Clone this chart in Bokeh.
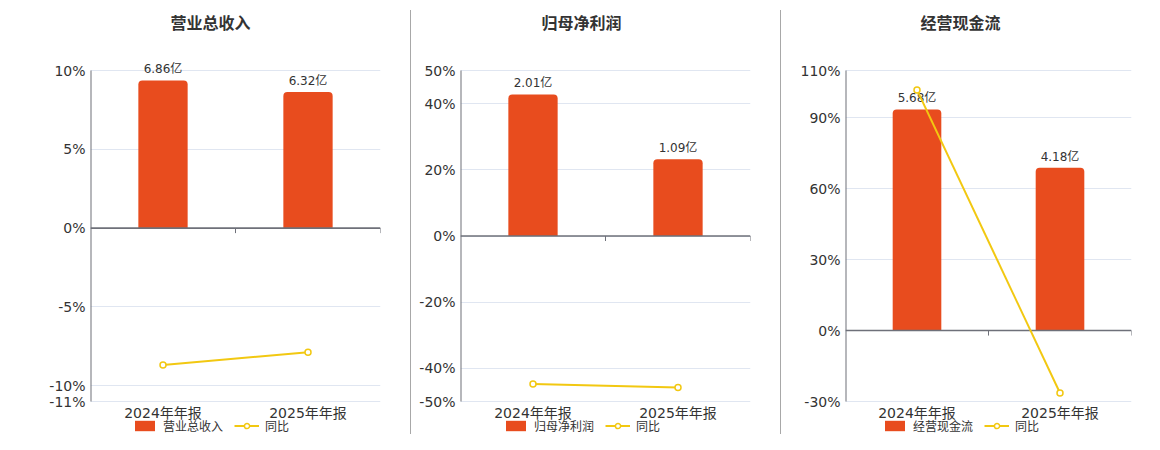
from bokeh.plotting import figure
from bokeh.models import (Range1d, FixedTicker, PrintfTickFormatter, Label,
                          Legend, LegendItem, ColumnDataSource, Div)
from bokeh.layouts import row
from bokeh.core.properties import value
from bokeh.embed import file_html
from bokeh.resources import INLINE

# ---------------- data ----------------
periods = ["2024年年报", "2025年年报"]
titles = ["营业总收入", "归母净利润", "经营现金流"]
revenue = [6.86, 6.32]          # 亿
revenue_yoy = [-8.68, -7.87]    # %
profit = [2.01, 1.09]
profit_yoy = [-44.7, -45.77]
cashflow = [5.68, 4.18]
cashflow_yoy = [101.8, -26.41]
ticks_revenue = [-11, -10, -5, 0, 5, 10]
ticks_profit = [-50, -40, -20, 0, 20, 40, 50]
ticks_cashflow = [-30, 0, 30, 60, 90, 110]
yoy_label = "同比"
unit = "亿"

# ---------------- style ----------------
FONT = "'DejaVu Sans', 'Noto Sans CJK SC', sans-serif"
RED = "#E84C1E"
YEL = "#F2C811"
AXC = "#6E7079"
GRID = "#E0E6F1"
TXT = "#333333"
H = 434
PAD = 70          # room above the top tick (title, bar labels), px
DATA_H = 331      # px between top and bottom tick
FOOT = H - PAD - DATA_H   # room for category labels + legend
TITLE_Y = 23      # title centre, px from top


def panel(title, bars, yoy, ticks, width, left, right, bar_top, title_center):
    ymin, ymax = min(ticks), max(ticks)
    n = len(periods)
    per_px = (ymax - ymin) / DATA_H
    y_end = ymax + PAD * per_px
    y_start = ymin - FOOT * per_px
    p = figure(width=width, height=H, output_backend="svg", toolbar_location=None,
               x_range=Range1d(-0.5, n - 0.5), y_range=Range1d(y_start, y_end),
               x_axis_location=None,
               min_border_left=left, min_border_right=right,
               min_border_top=0, min_border_bottom=0,
               outline_line_color=None, background_fill_color="white",
               border_fill_color="white")
    k = bar_top / ymax
    p.extra_y_ranges = {"bar": Range1d(y_start * k, y_end * k)}

    src = ColumnDataSource(dict(
        x=list(range(n)), v=bars, yoy=yoy, period=periods, base=[ymin] * n,
        label=[f"{b:.2f}{unit}" for b in bars]))

    # grid
    p.xgrid.grid_line_color = None
    p.ygrid.ticker = FixedTicker(ticks=ticks)
    p.ygrid.grid_line_color = GRID
    p.ygrid.grid_line_width = 1

    # y axis
    yax = p.yaxis[0]
    yax.ticker = FixedTicker(ticks=ticks)
    yax.formatter = PrintfTickFormatter(format="%d%%")
    yax.axis_line_color = None
    yax.major_tick_line_color = None
    yax.minor_tick_line_color = None
    yax.major_tick_out = 0
    yax.major_tick_in = 0
    yax.major_label_text_font = FONT
    yax.major_label_text_font_size = "14px"
    yax.major_label_text_color = TXT
    yax.major_label_standoff = 5
    # visible y axis line from bottom tick to top tick
    p.segment(x0=[-0.5], y0=[ymin], x1=[-0.5], y1=[ymax], line_color=AXC, line_width=2)

    # title
    p.add_layout(Label(x=title_center - left, y=H - TITLE_Y,
                       x_units="screen", y_units="screen", text=title,
                       text_align="center", text_baseline="middle",
                       text_font=FONT, text_font_size="16px",
                       text_font_style="bold", text_color=TXT))

    # category labels under the plot area
    p.text(x="x", y="base", text="period", source=src, text_align="center",
           text_baseline="top", y_offset=3, text_font=value(FONT),
           text_font_size="14px", text_color=TXT)

    # bars
    bar_r = p.vbar(x="x", top="v", bottom=0, width=0.34, source=src,
                   y_range_name="bar", fill_color=RED, line_color=None,
                   border_radius=(4, 4, 0, 0))
    p.text(x="x", y="v", text="label", source=src, y_range_name="bar",
           text_align="center", text_baseline="bottom", y_offset=-4,
           text_font=value(FONT), text_font_size="12px", text_color=TXT)

    # zero axis line with category boundary ticks
    p.segment(x0=[-0.5], y0=[0], x1=[n - 0.5], y1=[0], line_color=AXC, line_width=1.6)
    tick_len = 5 * per_px
    bnds = [i + 0.5 for i in range(n)]
    p.segment(x0=bnds, y0=[0] * n, x1=bnds, y1=[-tick_len] * n,
              line_color=AXC, line_width=1)

    # yoy line
    line_r = p.line(x="x", y="yoy", source=src, line_color=YEL, line_width=2)
    sc_r = p.scatter(x="x", y="yoy", source=src, size=6, fill_color="white",
                     line_color=YEL, line_width=1.5)

    # legend (below the category labels)
    legend = Legend(items=[LegendItem(label=title, renderers=[bar_r]),
                           LegendItem(label=yoy_label, renderers=[line_r, sc_r])],
                    orientation="horizontal",
                    location=(title_center - left - 78, 0),
                    glyph_width=25, glyph_height=13, label_height=13,
                    label_standoff=6, spacing=11, padding=0, margin=0,
                    border_line_color=None, background_fill_alpha=0,
                    label_text_font=FONT, label_text_font_size="12px",
                    label_text_color=TXT)
    p.add_layout(legend)
    return p


# panel centres are in page pixels, measured from each panel's own left edge
p1 = panel(titles[0], revenue, revenue_yoy, ticks_revenue, 410, 90, 30, 7.32, 210)
p2 = panel(titles[1], profit, profit_yoy, ticks_profit, 369, 49, 30, 2.35, 170)
p3 = panel(titles[2], cashflow, cashflow_yoy, ticks_cashflow, 363, 64, 13, 6.68, 179)

sep1 = Div(width=1, height=H - 10, margin=(10, 0, 0, 0),
           styles={"background-color": "#A8A8A8"})
sep2 = Div(width=1, height=H - 10, margin=(10, 0, 0, 0),
           styles={"background-color": "#A8A8A8"})

layout = row(p1, sep1, p2, sep2, p3)
open("out.html", "w").write(file_html(layout, INLINE))
